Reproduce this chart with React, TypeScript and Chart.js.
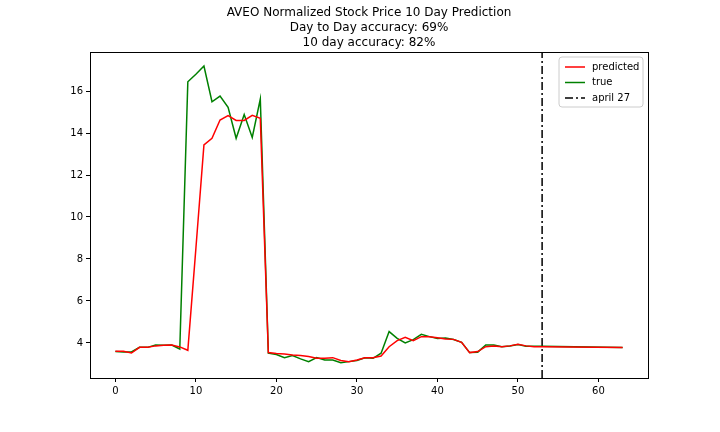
import { useEffect, useRef } from "react"
import { Chart, registerables } from "chart.js"

Chart.register(...registerables)

const days = [...Array.from({ length: 54 }, (_, i) => i), 63]
const predicted = [3.6, 3.6, 3.52, 3.79, 3.79, 3.86, 3.89, 3.9, 3.81, 3.65, 8.5, 13.43, 13.75, 14.62, 14.83, 14.6, 14.6, 14.84, 14.7,
    3.54, 3.5, 3.47, 3.43, 3.4, 3.35, 3.27, 3.27, 3.3, 3.16, 3.11, 3.19, 3.29, 3.29, 3.38, 3.82, 4.11, 4.27, 4.11, 4.3, 4.3,
    4.25, 4.19, 4.17, 4.03, 3.54, 3.59, 3.82, 3.86, 3.82, 3.86, 3.94, 3.86, 3.82, 3.82, 3.78]
const actual = [3.59, 3.57, 3.57, 3.79, 3.79, 3.9, 3.89, 3.9, 3.71, 16.44, 16.8, 17.19, 15.49, 15.76, 15.22, 13.75, 14.88, 13.79, 15.62,
    3.51, 3.45, 3.3, 3.4, 3.24, 3.11, 3.3, 3.19, 3.19, 3.06, 3.11, 3.16, 3.29, 3.27, 3.51, 4.54, 4.22, 4.0, 4.16, 4.41, 4.3,
    4.21, 4.24, 4.16, 4.03, 3.54, 3.56, 3.9, 3.9, 3.82, 3.86, 3.92, 3.84, 3.84, 3.84, 3.78]
const markerDay = 53
const xTicks = [0, 10, 20, 30, 40, 50, 60]
const yTicks = [4, 6, 8, 10, 12, 14, 16]
const titleLines = ["AVEO Normalized Stock Price 10 Day Prediction", "Day to Day accuracy: 69%", "10 day accuracy: 82%"]

const Y_MIN = 2.33
const Y_MAX = 17.86
const FONT = "'DejaVu Sans', sans-serif"

const decor = {
    id: "decor",
    afterDraw(chart: any) {
        const { ctx, chartArea: a } = chart
        ctx.save()
        ctx.strokeStyle = "#000"
        ctx.lineWidth = 1
        ctx.strokeRect(a.left + 0.5, a.top + 0.5, a.right - a.left, a.bottom - a.top)
        ctx.fillStyle = "#000"
        ctx.font = `12px ${FONT}`
        ctx.textAlign = "center"
        ctx.textBaseline = "alphabetic"
        const cx = (a.left + a.right) / 2
        titleLines.forEach((t, i) => ctx.fillText(t, cx, 16 + i * 15))
        // legend
        const items = chart.data.datasets.map((d: any) => d)
        const lx = a.right - 89, ly = a.top + 5, w = 84, h = 50
        ctx.fillStyle = "rgba(255,255,255,0.8)"
        ctx.strokeStyle = "#ccc"
        ctx.beginPath()
        ctx.roundRect(lx, ly, w, h, 3)
        ctx.fill()
        ctx.stroke()
        ctx.font = `10px ${FONT}`
        ctx.textAlign = "left"
        ctx.textBaseline = "middle"
        items.forEach((d: any, i: number) => {
            const y = ly + 10 + i * 15.5
            ctx.strokeStyle = d.borderColor
            ctx.lineWidth = 1.5
            ctx.setLineDash(d.borderDash || [])
            ctx.beginPath()
            ctx.moveTo(lx + 6, y)
            ctx.lineTo(lx + 26, y)
            ctx.stroke()
            ctx.setLineDash([])
            ctx.fillStyle = "#000"
            ctx.fillText(d.label, lx + 33, y)
        })
        ctx.restore()
    },
}

export default function App() {
    const chartRef = useRef<HTMLCanvasElement>(null)
    const chartInstance = useRef<Chart | null>(null)

    useEffect(() => {
        document.body.style.margin = "0"
        if (!chartRef.current) return
        const ctx = chartRef.current.getContext("2d")
        if (!ctx) return
        if (chartInstance.current) chartInstance.current.destroy()

        chartInstance.current = new Chart(ctx, {
            type: "line",
            data: {
                datasets: [
                    {
                        label: "predicted",
                        data: days.map((d, i) => ({ x: d, y: predicted[i] })),
                        borderColor: "#ff0000",
                        borderWidth: 1.5,
                        pointRadius: 0,
                    },
                    {
                        label: "true",
                        data: days.map((d, i) => ({ x: d, y: actual[i] })),
                        borderColor: "#008000",
                        borderWidth: 1.5,
                        pointRadius: 0,
                    },
                    {
                        label: "april 27",
                        data: [{ x: markerDay, y: Y_MIN }, { x: markerDay, y: Y_MAX }],
                        borderColor: "#000",
                        borderWidth: 1.5,
                        borderDash: [8, 3, 2, 3],
                        pointRadius: 0,
                    },
                ],
            },
            plugins: [decor],
            options: {
                responsive: false,
                animation: false,
                layout: { padding: { top: 52, right: 72, left: 0, bottom: 0 } },
                plugins: { legend: { display: false }, tooltip: { enabled: false } },
                scales: {
                    x: {
                        type: "linear",
                        min: -3.15,
                        max: 66.15,
                        afterFit: (s: any) => { s.height = 54 },
                        afterBuildTicks: (s: any) => { s.ticks = xTicks.map((v) => ({ value: v })) },
                        grid: { drawOnChartArea: false, tickLength: 4, color: "#000" },
                        border: { display: false },
                        ticks: { color: "#000", font: { family: FONT, size: 10 }, padding: 3, maxRotation: 0 },
                    },
                    y: {
                        min: Y_MIN,
                        max: Y_MAX,
                        afterFit: (s: any) => { s.width = 90 },
                        afterBuildTicks: (s: any) => { s.ticks = yTicks.map((v) => ({ value: v })) },
                        grid: { drawOnChartArea: false, tickLength: 4, color: "#000" },
                        border: { display: false },
                        ticks: { color: "#000", font: { family: FONT, size: 10 }, padding: 3 },
                    },
                },
            },
        })

        return () => {
            if (chartInstance.current) chartInstance.current.destroy()
        }
    }, [])

    return <canvas ref={chartRef} width={720} height={432} style={{ display: "block" }}></canvas>
}
